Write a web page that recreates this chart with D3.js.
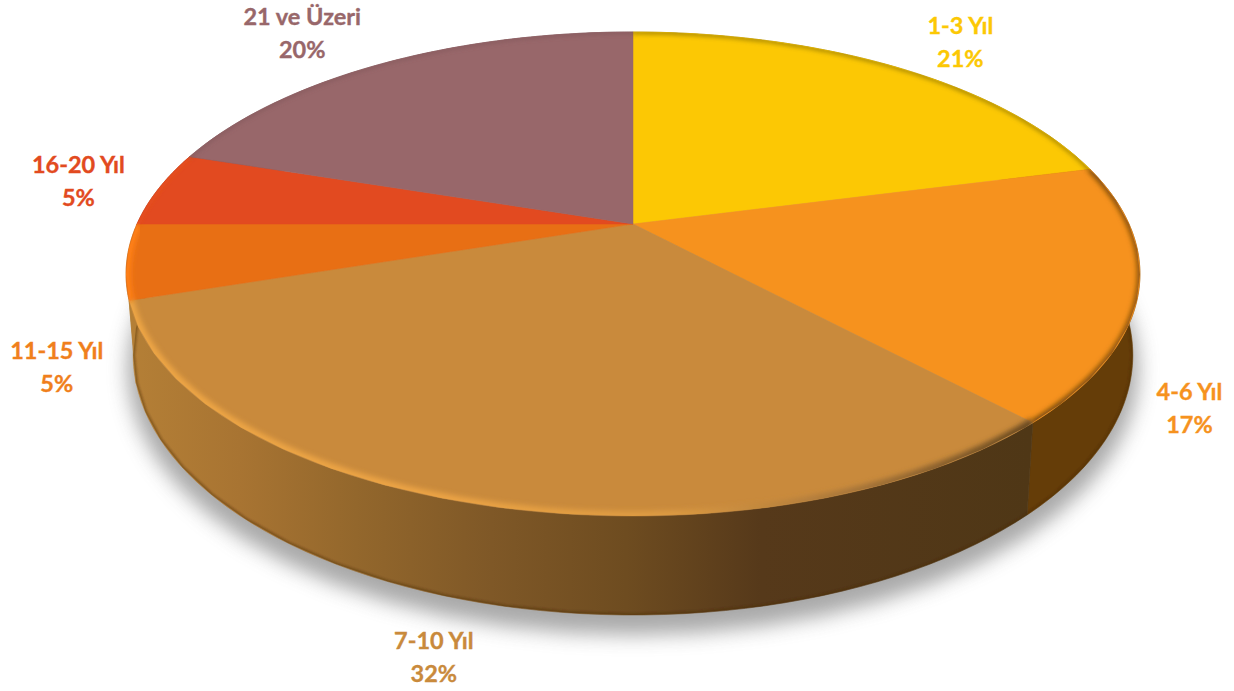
<!DOCTYPE html>
<html lang="tr">
<head>
<meta charset="utf-8">
<title>Kıdem dağılımı</title>
<script src="https://cdn.jsdelivr.net/npm/d3@7/dist/d3.min.js"></script>
<style>
  html, body { margin: 0; padding: 0; background: #fff; }
  svg { display: block; }
  text { font-family: Lato, "Open Sans", sans-serif; font-weight: 700; font-size: 23.5px; text-anchor: middle; stroke-width: 0.35px; }
</style>
</head>
<body>
<svg id="chart" width="1234" height="691"></svg>
<script>
// Seniority bands and their shares
const categories = ["1-3 Yıl", "4-6 Yıl", "7-10 Yıl", "11-15 Yıl", "16-20 Yıl", "21 ve Üzeri"];
const shares = [21, 17, 32, 5, 5, 20];
const topColors = ["#fcc804", "#f6921e", "#c98a3c", "#e86f14", "#e24a20", "#98676a"];
const labelColors = ["#fcc804", "#f6921e", "#c98a3c", "#f07f1c", "#e24a20", "#98676a"];
const sideColors = ["#7a6200", "#653d08", "url(#sideFront)", "#b47f36", "#a83414", "#6a4548"];
// Label centre relative to the rim point at each slice's middle angle
const labelShiftX = [66, 51, -45, -70, -80, -81];
const labelShiftY = [-25, 115, 152, 106, -8, -30];

const W = 1234, H = 691;
const svg = d3.select("#chart").attr("viewBox", [0, 0, W, H]);

// Perspective projection of a disc: unit u runs rightwards, v towards the viewer
const persp = 0.2066;
const discTop = { cx: 633, cy: 224, rx: 496, ry: 231.7 };
const discBase = { cx: 633, cy: 301.3, rx: 489, ry: 248.9 };
function project(disc, angle, radius = 1) {
  const u = Math.sin(angle) * radius, v = -Math.cos(angle) * radius;
  const d = 1 - persp * v;
  return [disc.cx + disc.rx * u / d, disc.cy + disc.ry * v / d];
}
const pieLayout = d3.pie().sort(null).value(d => d)(shares);
const rimSamples = (a0, a1) => d3.range(0, 61).map(i => a0 + (a1 - a0) * i / 60);
const curve = d3.line();

const defs = svg.append("defs");
const blur = (id, s) => defs.append("filter").attr("id", id)
  .attr("x", "-20%").attr("y", "-20%").attr("width", "140%").attr("height", "140%")
  .append("feGaussianBlur").attr("stdDeviation", s);
blur("soft", 10);
blur("rimBlur", 2.4);
blur("edgeBlur", 1.1);

function gradient(id, x1, x2, stops) {
  const g = defs.append("linearGradient").attr("id", id)
    .attr("gradientUnits", "userSpaceOnUse")
    .attr("x1", x1).attr("x2", x2).attr("y1", 0).attr("y2", 0);
  stops.forEach(([o, c]) => g.append("stop").attr("offset", o).attr("stop-color", c));
}
gradient("sideFront", 132, 1030, [
  [0, "#b47f36"], [0.12, "#a87432"], [0.25, "#93672c"], [0.4, "#7f5827"],
  [0.55, "#6e4c20"], [0.7, "#56391a"], [1, "#4f3716"]
]);
gradient("rimFront", 132, 1030, [
  [0, "#eda545"], [0.35, "#eba344"], [0.6, "#dc9a42"], [0.8, "#a8763a"], [1, "#6a4a20"]
]);
gradient("rimRight", 1030, 1140, [[0, "#6a4208"], [1, "#8a5208"]]);

const fullCircle = rimSamples(0, 2 * Math.PI);

// Ground shadow
svg.append("path")
  .attr("d", curve(fullCircle.map(a => project(discBase, a))) + "Z")
  .attr("transform", "translate(0,14)")
  .attr("fill", "#6f6f6f").attr("opacity", 0.6)
  .attr("stroke", "#6f6f6f").attr("stroke-width", 12)
  .attr("filter", "url(#soft)");

// Side wall of each slice
const sides = svg.append("g");
pieLayout.forEach((s, i) => {
  const angles = rimSamples(s.startAngle, s.endAngle);
  const pts = angles.map(a => project(discTop, a))
    .concat(angles.slice().reverse().map(a => project(discBase, a)));
  sides.append("path").attr("d", curve(pts) + "Z")
    .attr("fill", sideColors[i]).attr("stroke", sideColors[i]).attr("stroke-width", 0.6);
});

// Darkened lower edge of the wall
defs.append("clipPath").attr("id", "wallClip")
  .append("path").attr("d", curve(fullCircle.map(a => project(discBase, a))) + "Z");
svg.append("g").attr("clip-path", "url(#wallClip)")
  .append("path")
  .attr("d", curve(fullCircle.map(a => project(discBase, a))) + "Z")
  .attr("fill", "none").attr("stroke", "#4a2a05").attr("stroke-opacity", 0.45)
  .attr("stroke-width", 3.5).attr("filter", "url(#edgeBlur)");

// Top face slices
const tops = svg.append("g");
pieLayout.forEach((s, i) => {
  const pts = [[discTop.cx, discTop.cy]].concat(rimSamples(s.startAngle, s.endAngle).map(a => project(discTop, a)));
  tops.append("path").attr("d", curve(pts) + "Z")
    .attr("fill", topColors[i]).attr("stroke", topColors[i]).attr("stroke-width", 0.5);
});

// Bevel along the rim of the top face
defs.append("clipPath").attr("id", "topClip")
  .append("path").attr("d", curve(fullCircle.map(a => project(discTop, a))) + "Z");
const bevel = svg.append("g").attr("clip-path", "url(#topClip)");
const bevelStroke = ["#6e5c10", "url(#rimRight)", "url(#rimFront)", "#ff8018", "#e8521c", "#7e5558"];
const bevelWidth = [2.5, 6, 10, 10, 2.5, 2.5];
pieLayout.forEach((s, i) => {
  const angles = rimSamples(s.startAngle, s.endAngle);
  bevel.append("path").attr("d", curve(angles.map(a => project(discTop, a))))
    .attr("fill", "none").attr("stroke", bevelStroke[i])
    .attr("stroke-width", bevelWidth[i]).attr("filter", "url(#rimBlur)");
});

// Labels: category on the first line, share on the second
const labels = svg.append("g");
pieLayout.forEach((s, i) => {
  const [x, y] = project(discTop, (s.startAngle + s.endAngle) / 2);
  const lx = x + labelShiftX[i], ly = y + labelShiftY[i];
  const t = labels.append("text").attr("fill", labelColors[i]).attr("stroke", labelColors[i]);
  t.append("tspan").attr("x", lx).attr("y", ly - 8).text(categories[i]);
  t.append("tspan").attr("x", lx).attr("y", ly + 25).text(shares[i] + "%");
});
</script>
</body>
</html>
